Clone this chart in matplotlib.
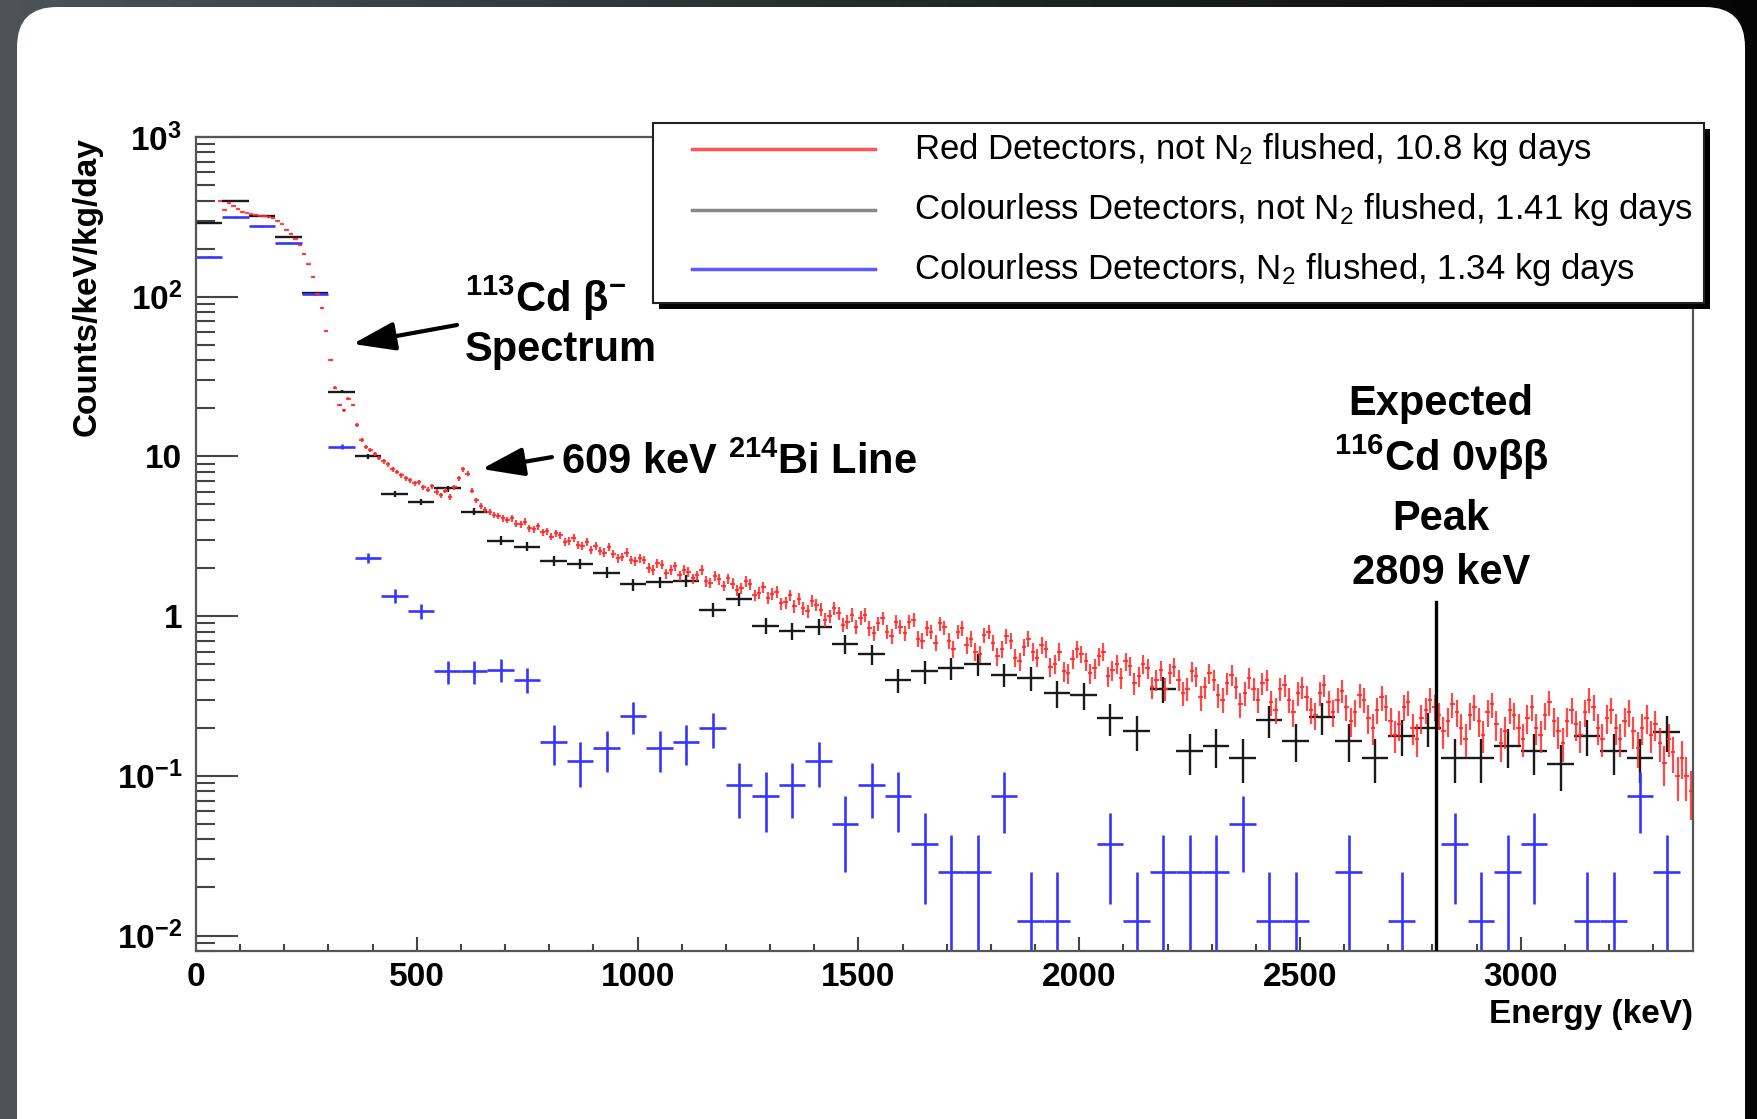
import numpy as np
import matplotlib.pyplot as plt
from matplotlib.patches import FancyBboxPatch, Rectangle
from matplotlib.ticker import FixedLocator, FixedFormatter, MultipleLocator, LogLocator, NullFormatter

plt.rcParams['font.family'] = ['Liberation Sans', 'DejaVu Sans']
plt.rcParams['mathtext.default'] = 'regular'

# red detectors, not N2 flushed: 10 keV bins starting at 50 keV, 10.8 kg days
red_start, red_width, red_exposure = 50, 10, 10.8
red_rate = [
    400, 350, 385, 372, 352,
    338, 334, 330, 326, 322, 318, 314, 310, 300, 285,
    262, 248, 230, 210, 185, 160, 133, 104, 85, 61,
    40, 27, 21, 19.5, 23, 21, 15.7, 12.7, 11.5, 11.0,
    10.3, 9.8, 9.3, 8.9, 8.3, 8.0, 7.6, 7.3, 7.1, 6.8,
    6.9, 6.4, 6.2, 6.5, 6.0, 5.7, 6.1, 5.6, 6.4, 7.3,
    8.3, 7.8, 6.1, 5.3, 4.9, 4.6, 4.5, 4.3, 4.25, 4.1,
    4.0, 4.1, 3.8, 3.75, 3.9, 3.55, 3.5, 3.65, 3.35, 3.4,
    3.15, 3.3, 3.2, 2.9, 2.95, 3.1, 2.8, 2.75, 2.9, 2.6,
    2.75, 2.55, 2.5, 2.7, 2.45, 2.3, 2.35, 2.5, 2.25, 2.2,
    2.3, 2.25, 2.0, 1.95, 2.15, 2.1, 1.85, 1.95, 2.05, 1.8,
    1.95, 1.9, 1.72, 1.8, 1.95, 1.65, 1.62, 1.78, 1.7, 1.55,
    1.72, 1.6, 1.45, 1.5, 1.65, 1.58, 1.35, 1.4, 1.52, 1.3,
    1.38, 1.42, 1.2, 1.22, 1.35, 1.15, 1.28, 1.12, 1.08, 1.25,
    1.18, 1.1, 0.95, 1.0, 1.12, 1.05, 0.88, 0.92, 1.02, 0.86,
    0.98, 1.02, 0.84, 0.78, 0.9, 0.97, 0.8, 0.75, 0.92, 0.86,
    0.78, 0.92, 0.95, 0.72, 0.7, 0.84, 0.8, 0.68, 0.9, 0.85,
    0.7, 0.62, 0.8, 0.84, 0.66, 0.72, 0.6, 0.58, 0.76, 0.8,
    0.68, 0.56, 0.62, 0.75, 0.7, 0.55, 0.52, 0.64, 0.72, 0.6,
    0.55, 0.66, 0.62, 0.48, 0.5, 0.6, 0.45, 0.44, 0.54, 0.62,
    0.58, 0.52, 0.44, 0.47, 0.56, 0.6, 0.42, 0.46, 0.5, 0.41,
    0.52, 0.49, 0.38, 0.42, 0.5, 0.47, 0.36, 0.4, 0.46, 0.35,
    0.44, 0.48, 0.4, 0.33, 0.35, 0.45, 0.42, 0.31, 0.36, 0.44,
    0.4, 0.32, 0.3, 0.38, 0.43, 0.36, 0.28, 0.33, 0.41, 0.35,
    0.3, 0.38, 0.4, 0.29, 0.26, 0.35, 0.37, 0.3, 0.25, 0.33,
    0.36, 0.31, 0.26, 0.24, 0.33, 0.37, 0.29, 0.25, 0.3, 0.34,
    0.27, 0.22, 0.25, 0.32, 0.3, 0.23, 0.2, 0.26, 0.31, 0.27,
    0.22, 0.18, 0.21, 0.27, 0.29, 0.2, 0.17, 0.23, 0.26, 0.3,
    0.27, 0.24, 0.19, 0.22, 0.28, 0.25, 0.2, 0.17, 0.24, 0.27,
    0.22, 0.18, 0.25, 0.28, 0.21, 0.16, 0.19, 0.26, 0.24, 0.2,
    0.17, 0.23, 0.27, 0.2, 0.18, 0.24, 0.29, 0.22, 0.19, 0.16,
    0.22, 0.26, 0.21, 0.18, 0.25, 0.3, 0.27, 0.2, 0.17, 0.23,
    0.26, 0.2, 0.17, 0.22, 0.25, 0.19, 0.15, 0.2, 0.23, 0.18,
    0.21, 0.16, 0.12, 0.17, 0.14, 0.1, 0.13, 0.1, 0.08,
]

# colourless detectors, not N2 flushed: 60 keV bins from 0, 1.41 kg days
black_start, black_width, black_exposure = 0, 60, 1.41
black_rate = [
    290, 400, 320, 238, 105, 25.4, 10, 5.85, 5.2, 6.3, 4.5, 2.97, 2.72, 2.22,
    2.12, 1.87, 1.58, 1.63, 1.67, 1.10, 1.28, 0.87, 0.81, 0.86, 0.67, 0.58,
    0.40, 0.45, 0.47, 0.50, 0.43, 0.41, 0.33, 0.32, 0.23, 0.19, 0.35, 0.142,
    0.154, 0.130, 0.224, 0.166, 0.232, 0.166, 0.130, 0.178, 0.20, 0.130,
    0.130, 0.154, 0.142, 0.118, 0.178, 0.142, 0.130, 0.189,
]

# colourless detectors, N2 flushed: 60 keV bins from 0, 1.34 kg days (0 = empty bin)
blue_start, blue_width, blue_exposure = 0, 60, 1.34
blue_rate = [
    178, 314, 277, 218, 104, 11.5, 2.32, 1.34, 1.08, 0.45, 0.45, 0.46, 0.40,
    0.162, 0.124, 0.149, 0.236, 0.149, 0.162, 0.199, 0.087, 0.075, 0.087,
    0.124, 0.050, 0.087, 0.075, 0.0373, 0.0249, 0.0249, 0.0746, 0.0124,
    0.0124, 0, 0.0373, 0.0124, 0.0249, 0.0249, 0.0249, 0.0497, 0.0124,
    0.0124, 0, 0.0249, 0, 0.0124, 0, 0.0373, 0.0124, 0.0249, 0.0373, 0,
    0.0124, 0.0124, 0.0746, 0.0249,
]

legend_labels = [
    'Red Detectors, not N$_2$ flushed, 10.8 kg days',
    'Colourless Detectors, not N$_2$ flushed, 1.41 kg days',
    'Colourless Detectors, N$_2$ flushed, 1.34 kg days',
]
y_ticks = [0.01, 0.1, 1, 10, 100, 1000]
y_tick_labels = ['$10^{-2}$', '$10^{-1}$', '1', '10', '$10^{2}$', '$10^{3}$']
peak_energy = 2809

W, H = 1758, 1119
fig = plt.figure(figsize=(W / 100, H / 100), dpi=100)

# slide background
bg = fig.add_axes([0, 0, 1, 1], zorder=0)
grad = np.linspace(0, 1, 256)[None, :]
bg.imshow(grad, extent=[0, W, H, 0], aspect='auto',
          cmap=plt.matplotlib.colors.LinearSegmentedColormap.from_list(
              'bg', ['#4b5456', '#262a2b', '#050505']))
bg.add_patch(FancyBboxPatch((17, 7), 1728, 1160, boxstyle='round,pad=0,rounding_size=40',
                            facecolor='white', edgecolor='none'))
bg.set_xlim(0, W)
bg.set_ylim(H, 0)
bg.axis('off')

ax = fig.add_axes([196 / W, 1 - 951 / H, (1693 - 196) / W, (951 - 137) / H], zorder=2)
ax.set_facecolor('white')


def draw_hist(rate, start, width, exposure, color, lw, alpha=1.0):
    rate = np.asarray(rate, dtype=float)
    centers = start + width * (np.arange(len(rate)) + 0.5)
    keep = rate > 0
    rate, centers = rate[keep], centers[keep]
    err = np.sqrt(rate / (width * exposure))
    lower = np.minimum(err, rate * 0.999)
    ax.errorbar(centers, rate, xerr=width / 2, yerr=[lower, err], fmt='none',
                ecolor=color, elinewidth=lw, capsize=0, alpha=alpha)


draw_hist(black_rate, black_start, black_width, black_exposure, '#1a1a1a', 1.7)
draw_hist(blue_rate, blue_start, blue_width, blue_exposure, '#3535ff', 1.9)
draw_hist(red_rate, red_start, red_width, red_exposure, '#ff2a2a', 1.6, alpha=0.85)

ax.set_yscale('log')
ax.set_xlim(0, 3390)
ax.set_ylim(0.008, 1000)

ax.plot([peak_energy, peak_energy], [0.008, 1.22], color='black', lw=2.4, zorder=5)

ax.xaxis.set_major_locator(MultipleLocator(500))
ax.xaxis.set_minor_locator(MultipleLocator(100))
ax.yaxis.set_major_locator(FixedLocator(y_ticks))
ax.yaxis.set_major_formatter(FixedFormatter(y_tick_labels))
ax.yaxis.set_minor_locator(LogLocator(base=10, subs=np.arange(2, 10)))
ax.yaxis.set_minor_formatter(NullFormatter())
ax.tick_params(axis='both', which='both', direction='in', color='#444444', width=1.5,
               top=False, right=False, labelsize=24)
ax.tick_params(axis='x', which='major', length=10, pad=8)
ax.tick_params(axis='x', which='minor', length=5)
ax.tick_params(axis='y', which='major', length=30, pad=10)
ax.tick_params(axis='y', which='minor', length=14)
for lab in ax.get_xticklabels() + ax.get_yticklabels():
    lab.set_fontweight('bold')
for sp in ax.spines.values():
    sp.set_color('#555555')
    sp.set_linewidth(1.6)

ax.set_xlabel('Energy (keV)', fontsize=24, fontweight='bold', loc='right', labelpad=4)
ax.set_ylabel('Counts/keV/kg/day', fontsize=24, fontweight='bold', loc='top', labelpad=10)

arrow = dict(arrowstyle='-|>,head_length=0.65,head_width=0.22', lw=3, color='black',
             mutation_scale=40, shrinkA=0, shrinkB=0)
ax.annotate('', xy=(355, 50.6), xytext=(591, 66.5), arrowprops=arrow)
ax.annotate('', xy=(647, 8.34), xytext=(806, 9.9), arrowprops=arrow)

# overlay for text and legend, pixel coordinates
ov = fig.add_axes([0, 0, 1, 1], zorder=4)
ov.set_xlim(0, W)
ov.set_ylim(H, 0)
ov.axis('off')
ov.patch.set_alpha(0)

tkw = dict(fontsize=30, fontweight='bold', va='baseline')
ov.text(465, 312, r'$^{113}$Cd $\beta^{-}$', ha='left', **tkw)
ov.text(465, 361, 'Spectrum', ha='left', **tkw)
ov.text(561, 474, r'609 keV $^{214}$Bi Line', ha='left', **tkw)
ov.text(1441, 415, 'Expected', ha='center', **tkw)
ov.text(1441, 471, r'$^{116}$Cd 0$\nu\beta\beta$', ha='center', **tkw)
ov.text(1441, 530, 'Peak', ha='center', **tkw)
ov.text(1441, 584, '2809 keV', ha='center', **tkw)

# legend box with drop shadow
ov.add_patch(Rectangle((659, 129), 1051, 180, facecolor='black', edgecolor='none'))
ov.add_patch(Rectangle((653, 123), 1051, 180, facecolor='white', edgecolor='#222222', lw=1.5))
leg_colors = ['#ff5555', '#888888', '#5a5aff']
for yy, lab, c in zip([149, 210, 269], legend_labels, leg_colors):
    ov.plot([692, 875], [yy, yy], color=c, lw=2.5)
    ov.text(914, yy, lab, fontsize=25, va='center', ha='left')

fig.savefig('out.png', dpi=100)
